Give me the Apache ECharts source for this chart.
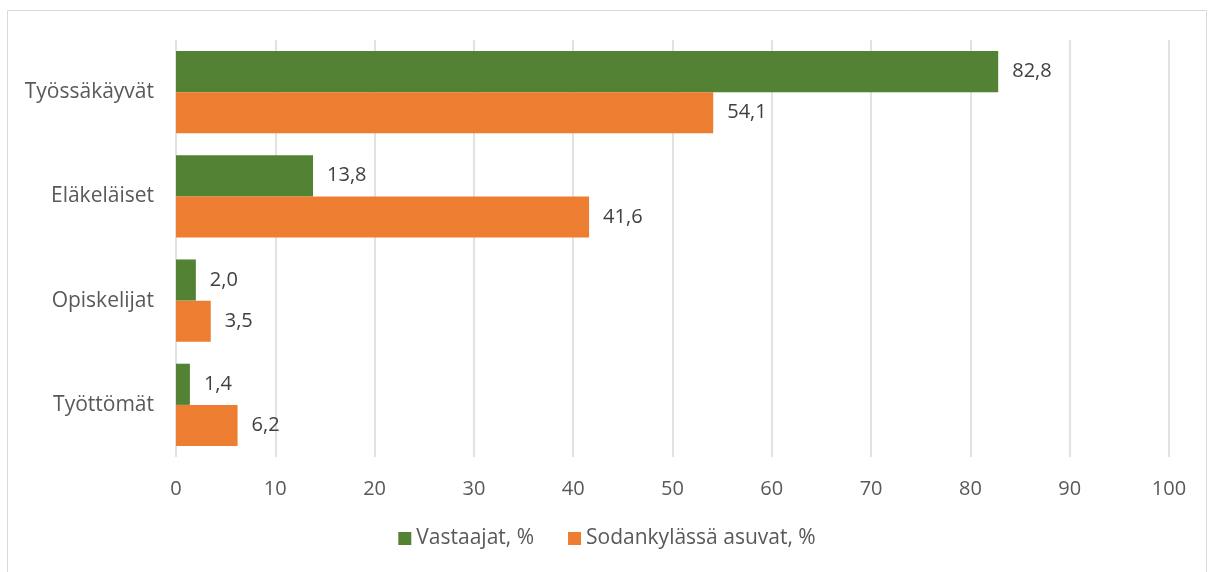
<!DOCTYPE html>
<html>
<head>
<meta charset="utf-8">
<script src="https://cdn.jsdelivr.net/npm/echarts@6/dist/echarts.min.js"></script>
<style>
html, body { margin: 0; padding: 0; background: #fff; }
#main { width: 1214px; height: 572px; }
</style>
</head>
<body>
<div id="main"></div>
<script>
var categories = ['Työssäkäyvät', 'Eläkeläiset', 'Opiskelijat', 'Työttömät'];
var vastaajat = [82.8, 13.8, 2.0, 1.4];
var asuvat = [54.1, 41.6, 3.5, 6.2];
var seriesNames = ['Vastaajat, %', 'Sodankylässä asuvat, %'];

var myChart = echarts.init(document.getElementById('main'));
var font = '"Open Sans", "Noto Sans", sans-serif';

function fmt(p) {
    return p.value.toFixed(1).replace('.', ',');
}

var option = {
    color: ['#548235', '#ed7d31'],
    textStyle: { fontFamily: font },
    graphic: [{
        type: 'rect',
        shape: { x: 7.5, y: 10.5, width: 1199, height: 570 },
        style: { fill: 'none', stroke: '#d9d9d9', lineWidth: 1 },
        silent: true
    }],
    grid: {
        left: 176,
        right: 45,
        top: 40,
        bottom: 115
    },
    legend: {
        bottom: 18,
        left: 'center',
        itemWidth: 13,
        itemHeight: 13,
        itemGap: 34,
        icon: 'rect',
        textStyle: { color: '#595959', fontSize: 21, fontFamily: font },
        data: seriesNames
    },
    xAxis: {
        type: 'value',
        min: 0,
        max: 100,
        interval: 10,
        axisLine: { show: false },
        axisTick: { show: false },
        splitLine: { lineStyle: { color: '#d9d9d9', width: 1.5 } },
        axisLabel: { color: '#595959', fontSize: 20, margin: 22 }
    },
    yAxis: {
        type: 'category',
        inverse: true,
        data: categories,
        axisLine: { show: false },
        axisTick: { show: false },
        axisLabel: { color: '#595959', fontSize: 21, margin: 22 }
    },
    series: [
        {
            name: seriesNames[0],
            type: 'bar',
            data: vastaajat,
            barGap: '0%',
            barCategoryGap: '21%',
            label: { show: true, position: 'right', distance: 14, color: '#404040', fontSize: 20, formatter: fmt }
        },
        {
            name: seriesNames[1],
            type: 'bar',
            data: asuvat,
            barGap: '0%',
            barCategoryGap: '21%',
            label: { show: true, position: 'right', distance: 14, color: '#404040', fontSize: 20, formatter: fmt }
        }
    ]
};
myChart.setOption(option);
</script>
</body>
</html>
